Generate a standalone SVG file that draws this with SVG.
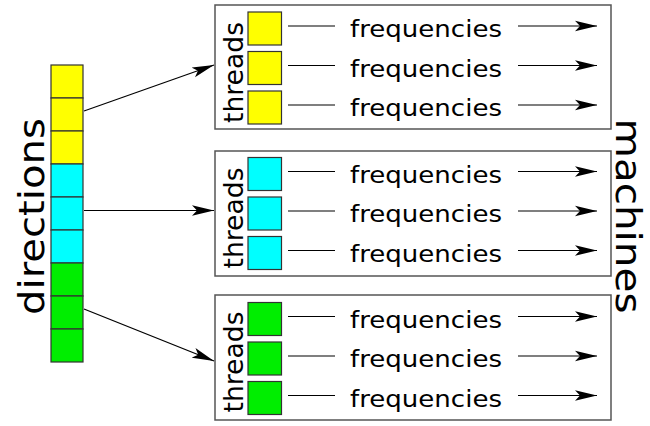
<svg xmlns="http://www.w3.org/2000/svg" width="650" height="426" viewBox="0 0 650 426">
<defs>
<marker id="ah" markerUnits="userSpaceOnUse" markerWidth="24" markerHeight="12" refX="22" refY="6" orient="auto">
<path d="M0,0.8 L22,6 L0,11.2 L5,6 z" fill="#000"/>
</marker>
<style>
.box{fill:#fff;stroke:#555;stroke-width:1.5}
.cell{stroke:#333;stroke-width:1.2}
.y{fill:#ffff00}.c{fill:#00ffff}.g{fill:#00ee00}
.ln{stroke:#000;stroke-width:1.2;fill:none}
.arr{stroke:#000;stroke-width:1.2;fill:none;marker-end:url(#ah)}
.f{font-family:"DejaVu Sans",sans-serif;font-size:23px;fill:#000}
.th{font-family:"DejaVu Sans",sans-serif;font-size:27px;fill:#000;text-anchor:middle}
.big{font-family:"DejaVu Sans",sans-serif;font-size:35px;fill:#000;text-anchor:middle}
</style>
</defs>
<rect width="650" height="426" fill="#fff"/>
<g id="directions">
<rect class="cell y" x="51" y="65" width="32" height="33"/>
<rect class="cell y" x="51" y="98" width="32" height="33"/>
<rect class="cell y" x="51" y="131" width="32" height="33"/>
<rect class="cell c" x="51" y="164" width="32" height="33"/>
<rect class="cell c" x="51" y="197" width="32" height="33"/>
<rect class="cell c" x="51" y="230" width="32" height="33"/>
<rect class="cell g" x="51" y="263" width="32" height="33"/>
<rect class="cell g" x="51" y="296" width="32" height="33"/>
<rect class="cell g" x="51" y="329" width="32" height="33"/>
<text class="big" transform="translate(44,216.5) rotate(-90)" textLength="197" lengthAdjust="spacingAndGlyphs">directions</text>
</g>
<g id="machines">
<text class="big" transform="translate(616,216) rotate(90)" textLength="195" lengthAdjust="spacingAndGlyphs">machines</text>
</g>
<g id="machine1">
<rect class="box" x="215" y="5" width="396" height="124"/>
<text class="th" transform="translate(243,72.5) rotate(-90)" textLength="101" lengthAdjust="spacingAndGlyphs">threads</text>
<rect class="cell y" x="248" y="12" width="33.5" height="33"/>
<rect class="cell y" x="248" y="51.5" width="33.5" height="33"/>
<rect class="cell y" x="248" y="91" width="33.5" height="33"/>
<line class="ln" x1="288" y1="26" x2="335" y2="26"/>
<line class="ln" x1="288" y1="65.5" x2="335" y2="65.5"/>
<line class="ln" x1="288" y1="105" x2="335" y2="105"/>
<text class="f" x="350" y="37" textLength="152" lengthAdjust="spacingAndGlyphs">frequencies</text>
<text class="f" x="350" y="76.5" textLength="152" lengthAdjust="spacingAndGlyphs">frequencies</text>
<text class="f" x="350" y="116" textLength="152" lengthAdjust="spacingAndGlyphs">frequencies</text>
<line class="arr" x1="518" y1="26" x2="597" y2="26"/>
<line class="arr" x1="518" y1="65.5" x2="597" y2="65.5"/>
<line class="arr" x1="518" y1="105" x2="597" y2="105"/>
</g>
<g id="machine2">
<rect class="box" x="215" y="151" width="396" height="125"/>
<text class="th" transform="translate(243,218) rotate(-90)" textLength="101" lengthAdjust="spacingAndGlyphs">threads</text>
<rect class="cell c" x="248" y="157.5" width="33.5" height="33"/>
<rect class="cell c" x="248" y="197" width="33.5" height="33"/>
<rect class="cell c" x="248" y="236.5" width="33.5" height="33"/>
<line class="ln" x1="288" y1="171.5" x2="335" y2="171.5"/>
<line class="ln" x1="288" y1="211" x2="335" y2="211"/>
<line class="ln" x1="288" y1="250.5" x2="335" y2="250.5"/>
<text class="f" x="350" y="182.5" textLength="152" lengthAdjust="spacingAndGlyphs">frequencies</text>
<text class="f" x="350" y="222" textLength="152" lengthAdjust="spacingAndGlyphs">frequencies</text>
<text class="f" x="350" y="261.5" textLength="152" lengthAdjust="spacingAndGlyphs">frequencies</text>
<line class="arr" x1="518" y1="171.5" x2="597" y2="171.5"/>
<line class="arr" x1="518" y1="211" x2="597" y2="211"/>
<line class="arr" x1="518" y1="250.5" x2="597" y2="250.5"/>
</g>
<g id="machine3">
<rect class="box" x="215" y="295" width="396" height="125"/>
<text class="th" transform="translate(243,362) rotate(-90)" textLength="101" lengthAdjust="spacingAndGlyphs">threads</text>
<rect class="cell g" x="248" y="302.5" width="33.5" height="33"/>
<rect class="cell g" x="248" y="342" width="33.5" height="33"/>
<rect class="cell g" x="248" y="381.5" width="33.5" height="33"/>
<line class="ln" x1="288" y1="316.5" x2="335" y2="316.5"/>
<line class="ln" x1="288" y1="356" x2="335" y2="356"/>
<line class="ln" x1="288" y1="395.5" x2="335" y2="395.5"/>
<text class="f" x="350" y="327.5" textLength="152" lengthAdjust="spacingAndGlyphs">frequencies</text>
<text class="f" x="350" y="367" textLength="152" lengthAdjust="spacingAndGlyphs">frequencies</text>
<text class="f" x="350" y="406.5" textLength="152" lengthAdjust="spacingAndGlyphs">frequencies</text>
<line class="arr" x1="518" y1="316.5" x2="597" y2="316.5"/>
<line class="arr" x1="518" y1="356" x2="597" y2="356"/>
<line class="arr" x1="518" y1="395.5" x2="597" y2="395.5"/>
</g>
<g id="connectors">
<line class="arr" x1="84" y1="111" x2="214" y2="65"/>
<line class="arr" x1="84" y1="210.5" x2="214" y2="210.5"/>
<line class="arr" x1="84" y1="309" x2="214" y2="361"/>
</g>
</svg>
